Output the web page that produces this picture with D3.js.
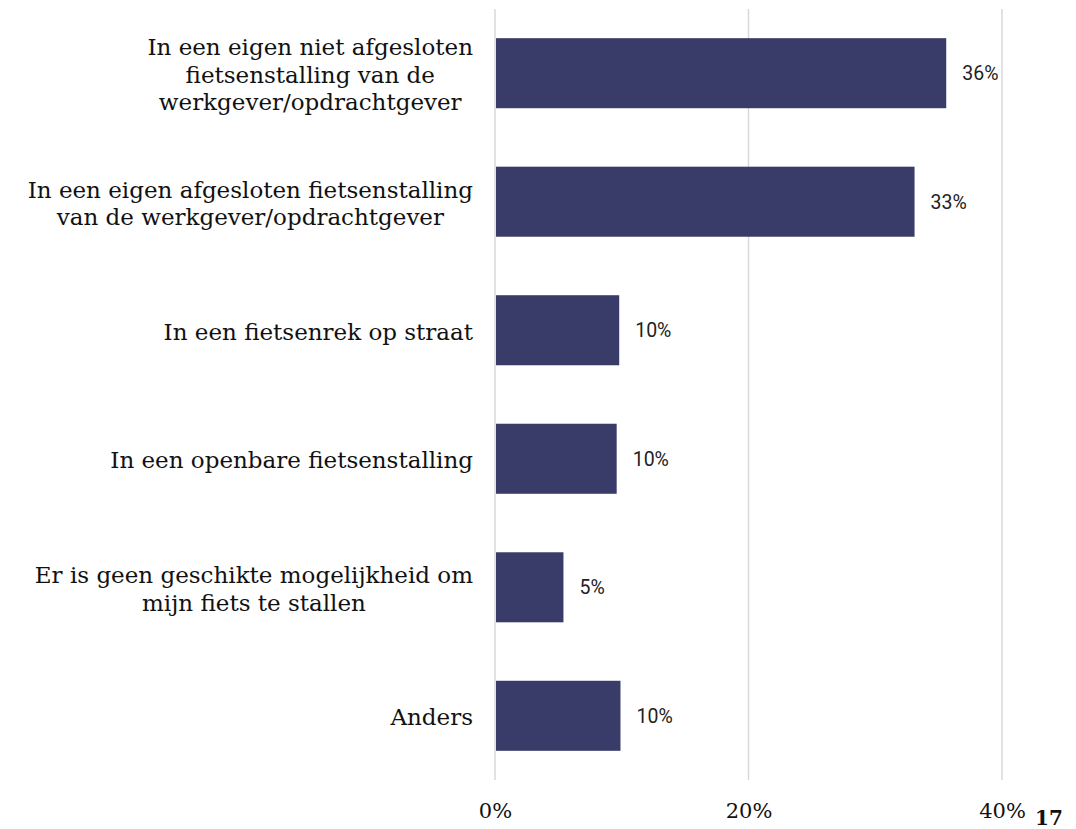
<!DOCTYPE html>
<html>
<head>
<meta charset="utf-8">
<script src="https://cdn.jsdelivr.net/npm/d3@7"></script>
<style>
    body { margin: 0; background: #fff; }
    .cat-label { font-family: "DejaVu Serif", serif; font-size: 23px; fill: #111; }
    .value-label { font-family: Roboto, sans-serif; font-size: 19.5px; fill: #222; }
    .x-axis text { font-family: "DejaVu Serif", serif; font-size: 21px; fill: #111; }
</style>
</head>
<body>
<div id="chart"></div>
<script>
// categories (line breaks as in the original)
let categories = [
    ["In een eigen niet afgesloten", "fietsenstalling van de", "werkgever/opdrachtgever"],
    ["In een eigen afgesloten fietsenstalling", "van de werkgever/opdrachtgever"],
    ["In een fietsenrek op straat"],
    ["In een openbare fietsenstalling"],
    ["Er is geen geschikte mogelijkheid om", "mijn fiets te stallen"],
    ["Anders"]
];
let values = [35.6, 33.1, 9.8, 9.6, 5.4, 9.9];
let valueLabels = ["36%", "33%", "10%", "10%", "5%", "10%"];
let tickValues = [0, 20, 40];
let pageNumber = "17";

let margin = {top: 9, right: 73, bottom: 49, left: 495};
let totalWidth = 1076, totalHeight = 829;
let width = totalWidth - margin.left - margin.right,
    height = totalHeight - margin.top - margin.bottom;

let colors = {
    bar: '#393C68',
    grid: '#d9d9d9',
    text: '#111'
};

let svg = d3.select("#chart").append("svg")
    .attr("width", totalWidth)
    .attr("height", totalHeight);

let g = svg.append("g")
    .attr("transform", "translate(" + margin.left + "," + margin.top + ")");

let x = d3.scaleLinear()
    .domain([0, 40])
    .range([0, 507]);

let y = d3.scaleBand()
    .domain(d3.range(categories.length))
    .range([0, height])
    .paddingInner(0.455)
    .paddingOuter(0.227);

// gridlines
g.selectAll(".grid")
    .data(tickValues)
    .enter()
    .append("line")
    .attr("class", "grid")
    .attr("x1", d => x(d))
    .attr("x2", d => x(d))
    .attr("y1", 0)
    .attr("y2", height)
    .attr("stroke", colors.grid)
    .attr("stroke-width", 1.5);

// bars
g.selectAll(".bar")
    .data(values)
    .enter()
    .append("rect")
    .attr("class", "bar")
    .attr("x", x(0) + 1)
    .attr("y", (d, i) => y(i))
    .attr("width", d => x(d) - 1)
    .attr("height", y.bandwidth())
    .attr("fill", colors.bar);

// value labels
g.selectAll(".value-label")
    .data(values)
    .enter()
    .append("text")
    .attr("class", "value-label")
    .attr("x", d => x(d) + 16)
    .attr("y", (d, i) => y(i) + y.bandwidth() / 2)
    .attr("dy", "0.35em")
    .text((d, i) => valueLabels[i]);

// category labels: block right aligned, lines centred inside the block
let lineHeight = 27.5;
categories.forEach((lines, i) => {
    let t = g.append("text")
        .attr("class", "cat-label")
        .attr("text-anchor", "middle");
    let spans = lines.map((line, j) => t.append("tspan").text(line));
    let maxW = d3.max(spans, s => s.node().getComputedTextLength());
    let cx = -22 - maxW / 2;
    let cy = y(i) + y.bandwidth() / 2;
    let startY = cy - (lines.length - 1) * lineHeight / 2;
    spans.forEach((s, j) => {
        s.attr("x", cx)
            .attr("y", startY + j * lineHeight)
            .attr("dy", "0.42em");
    });
});

// x axis
let xAxis = d3.axisBottom(x)
    .tickValues(tickValues)
    .tickFormat(d => d + "%")
    .tickSize(0)
    .tickPadding(23);

g.append("g")
    .attr("class", "x-axis")
    .attr("transform", "translate(0," + height + ")")
    .call(xAxis)
    .call(a => a.select(".domain").remove());

// page number
svg.append("text")
    .attr("x", 1035)
    .attr("y", 825)
    .attr("font-family", "DejaVu Serif, serif")
    .attr("font-weight", "bold")
    .attr("font-size", 20)
    .attr("fill", colors.text)
    .text(pageNumber);
</script>
</body>
</html>
